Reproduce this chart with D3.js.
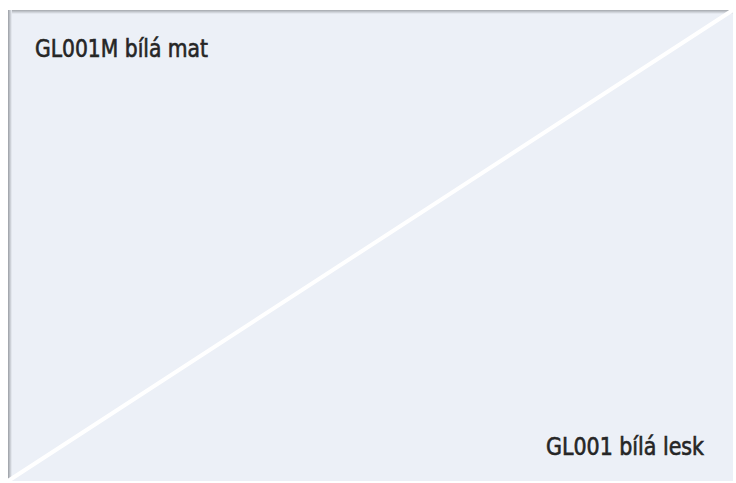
<!DOCTYPE html>
<html>
<head>
<meta charset="utf-8">
<script src="https://cdn.jsdelivr.net/npm/d3@7"></script>
<style>
  body { margin: 0; background: #fff; }
  text { font-family: "DejaVu Sans Condensed", "DejaVu Sans", sans-serif; font-stretch: condensed; }
</style>
</head>
<body>
<svg id="chart" width="736" height="483"></svg>
<script>
const labels = ["GL001M bílá mat", "GL001 bílá lesk"]
const corners = [0, 1]
const swatchColor = "#ecf0f7"

const svg = d3.select("#chart")

const box = { x0: 8, y0: 10, x1: 733, y1: 481 }
const scX = d3.scaleLinear().domain([0, 1]).range([box.x0, box.x1])
const scY = d3.scaleLinear().domain([0, 1]).range([box.y1, box.y0])

const defs = svg.append("defs")
const shadeL = defs.append("linearGradient").attr("id", "shadeL")
shadeL.append("stop").attr("offset", "0").attr("stop-color", "#9a9ea4")
shadeL.append("stop").attr("offset", "1").attr("stop-color", swatchColor)
const shadeT = defs.append("linearGradient").attr("id", "shadeT")
    .attr("x1", 0).attr("y1", 0).attr("x2", 0).attr("y2", 1)
shadeT.append("stop").attr("offset", "0").attr("stop-color", "#a4a8ad")
shadeT.append("stop").attr("offset", "1").attr("stop-color", swatchColor)

// swatch
svg.append("rect")
    .attr("x", scX(0)).attr("y", scY(1))
    .attr("width", scX(1) - scX(0)).attr("height", scY(0) - scY(1))
    .attr("fill", swatchColor)

// top and left edge shading
svg.append("rect")
    .attr("x", scX(0)).attr("y", scY(1))
    .attr("width", scX(1) - scX(0)).attr("height", 4)
    .attr("fill", "url(#shadeT)")
svg.append("rect")
    .attr("x", scX(0)).attr("y", scY(1))
    .attr("width", 4).attr("height", scY(0) - scY(1))
    .attr("fill", "url(#shadeL)")

// diagonal split
let lnMkr = d3.line().x(d => scX(d)).y(d => scY(d))
svg.append("path")
    .attr("d", lnMkr(corners))
    .attr("stroke", "#ffffff")
    .attr("stroke-width", 4)
    .attr("fill", "none")

// labels, medium weight = regular glyphs plus a thin outline
svg.append("text")
    .attr("x", 35).attr("y", 57)
    .attr("font-size", 24)
    .attr("fill", "#262626").attr("stroke", "#262626").attr("stroke-width", 0.6)
    .attr("textLength", 173).attr("lengthAdjust", "spacingAndGlyphs")
    .text(labels[0])
svg.append("text")
    .attr("x", 704).attr("y", 455)
    .attr("text-anchor", "end")
    .attr("font-size", 24)
    .attr("fill", "#262626").attr("stroke", "#262626").attr("stroke-width", 0.6)
    .attr("textLength", 158).attr("lengthAdjust", "spacingAndGlyphs")
    .text(labels[1])
</script>
</body>
</html>
